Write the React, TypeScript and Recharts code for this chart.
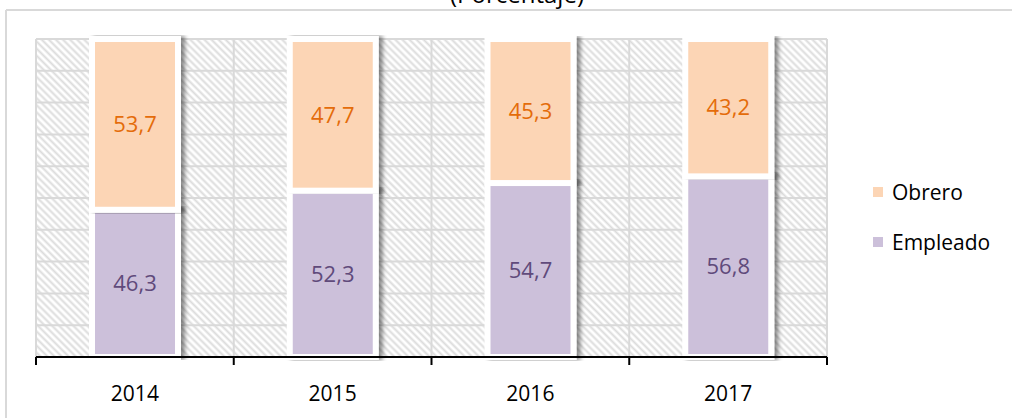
import { Bar, BarChart, CartesianGrid, Customized, LabelList, XAxis, YAxis } from "recharts";

const years = ["2014", "2015", "2016", "2017"];
const empleado = [46.3, 52.3, 54.7, 56.8];
const obrero = [53.7, 47.7, 45.3, 43.2];
const yTicks = [0, 10, 20, 30, 40, 50, 60, 70, 80, 90, 100];

const data = years.map((year, i) => ({ year, empleado: empleado[i], obrero: obrero[i] }));

const W = 1012;
const H = 418;
const M = { top: 39, right: 185, bottom: 0, left: 36 };
const PLOT_W = W - M.left - M.right;
const BAND = PLOT_W / years.length;
const FONT = "'Open Sans', sans-serif";

const YearTick = ({ x, y, payload, index }: any) => {
	const half = BAND / 2;
	return (
		<g>
			<line x1={x - half} x2={x - half} y1={y - 8} y2={y} stroke="#000" strokeWidth={2} />
			{index === years.length - 1 && <line x1={x + half} x2={x + half} y1={y - 8} y2={y} stroke="#000" strokeWidth={2} />}
			<text x={x} y={y + 36} textAnchor="middle" fontSize={21} fontFamily={FONT} fill="#000">
				{payload.value}
			</text>
		</g>
	);
};

const ShadowBar = (props: any) => {
	const { x, y, width, height, fill } = props;
	return <rect x={x} y={y} width={width} height={height} fill={fill} stroke="#fff" strokeWidth={6} filter="url(#barShadow)" />;
};

// defs, frame and the cut-off title
const Extras = () => (
	<g>
		<defs>
			<pattern id="hatch" patternUnits="userSpaceOnUse" width={5} height={5} patternTransform="rotate(-45)">
				<rect width={5} height={5} fill="#fff" />
				<line x1={1.5} y1={0} x2={1.5} y2={5} stroke="#dcdcdc" strokeWidth={2} />
			</pattern>
			<filter id="barShadow" x="-4%" y="-2%" width="125%" height="104%">
				<feDropShadow dx={4} dy={0} stdDeviation={2.2} floodColor="#000" floodOpacity={0.45} />
			</filter>
		</defs>
		<text x={517} y={3} textAnchor="middle" fontSize={24} fontFamily={FONT} fill="#000">
			(Porcentaje)
		</text>
		<line x1={6} x2={W} y1={10} y2={10} stroke="#d9d9d9" strokeWidth={2} />
		<line x1={6} x2={6} y1={10} y2={H} stroke="#d9d9d9" strokeWidth={2} />
	</g>
);

const legendItems = [
	{ name: "Obrero", color: "#FCD5B5" },
	{ name: "Empleado", color: "#CCC0DA" },
];

export default function App() {
	return (
		<div style={{ position: "relative", width: W, height: H, background: "#fff" }}>
			<style>{`body { margin: 0; }`}</style>
			<BarChart width={W} height={H} data={data} margin={M} barSize={86}>
				<Customized component={<Extras />} />
				<CartesianGrid
					fill="url(#hatch)"
					stroke="#d9d9d9"
					strokeWidth={2}
					verticalCoordinatesGenerator={({ offset }: any) => years.map((_, i) => offset.left + (offset.width * i) / years.length).concat(offset.left + offset.width)}
				/>
				<XAxis dataKey="year" height={61} tickLine={false} axisLine={{ stroke: "#000", strokeWidth: 2 }} tick={<YearTick />} interval={0} />
				<YAxis hide domain={[0, 100]} ticks={yTicks} />
				<Bar dataKey="empleado" name="Empleado" stackId="a" fill="#CCC0DA" shape={<ShadowBar />} isAnimationActive={false}>
					<LabelList dataKey="empleado" position="center" formatter={(v: any) => String(v).replace(".", ",")} fill="#604A7B" fontSize={22} fontFamily={FONT} />
				</Bar>
				<Bar dataKey="obrero" name="Obrero" stackId="a" fill="#FCD5B5" shape={<ShadowBar />} isAnimationActive={false}>
					<LabelList dataKey="obrero" position="center" formatter={(v: any) => String(v).replace(".", ",")} fill="#E46C0A" fontSize={22} fontFamily={FONT} />
				</Bar>
			</BarChart>
			<div style={{ position: "absolute", left: 873, top: 167, fontFamily: FONT, fontSize: 21, color: "#000" }}>
				{legendItems.map((it) => (
					<div key={it.name} style={{ display: "flex", alignItems: "center", height: 50 }}>
						<span style={{ width: 10, height: 10, background: it.color, marginRight: 9, display: "inline-block" }} />
						<span>{it.name}</span>
					</div>
				))}
			</div>
		</div>
	);
}
